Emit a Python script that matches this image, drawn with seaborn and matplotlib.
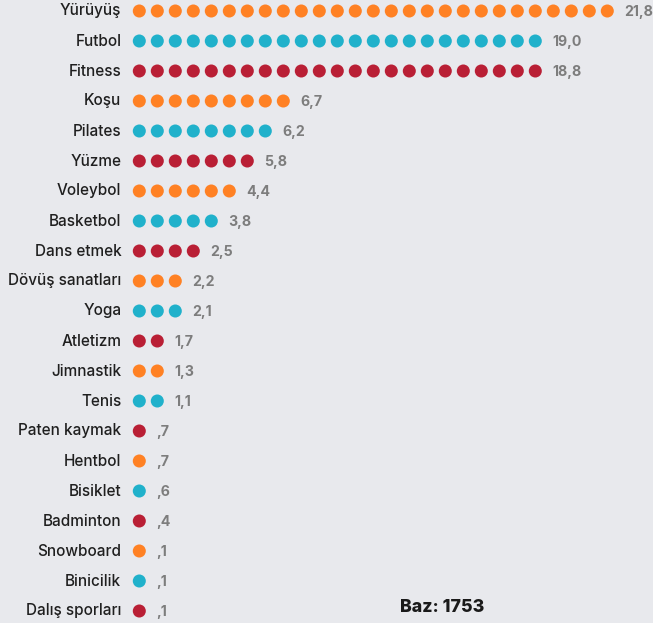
import pandas as pd
import seaborn as sns
import matplotlib.pyplot as plt

# Data
sports = ["Yürüyüş", "Futbol", "Fitness", "Koşu", "Pilates", "Yüzme", "Voleybol",
          "Basketbol", "Dans etmek", "Dövüş sanatları", "Yoga", "Atletizm", "Jimnastik",
          "Tenis", "Paten kaymak", "Hentbol", "Bisiklet", "Badminton", "Snowboard",
          "Binicilik", "Dalış sporları"]
values = [21.8, 19.0, 18.8, 6.7, 6.2, 5.8, 4.4, 3.8, 2.5, 2.2, 2.1, 1.7, 1.3, 1.1,
          0.7, 0.7, 0.6, 0.4, 0.1, 0.1, 0.1]
dot_counts = [27, 23, 23, 9, 8, 7, 6, 5, 4, 3, 3, 2, 2, 2, 1, 1, 1, 1, 1, 1, 1]
base_text = "Baz: 1753"

bg = "#E8E9ED"
palette = {"o": "#FF8124", "t": "#20B1CB", "r": "#B91F35"}
color_cycle = ["o", "t", "r"]

# one row per dot
rows = []
for i, (sport, n) in enumerate(zip(sports, dot_counts)):
    for k in range(n):
        rows.append({"sport": sport, "row": i, "dot": k, "col": color_cycle[i % 3]})
dots = pd.DataFrame(rows)

sns.set_style("white")
plt.rcParams["font.family"] = ["Inter", "DejaVu Sans"]

fig = plt.figure(figsize=(6.53, 6.23), dpi=100, facecolor=bg)
ax = fig.add_axes([0, 0, 1, 1])
ax.set_facecolor(bg)

sns.scatterplot(data=dots, x="dot", y="row", hue="col", palette=palette,
                s=88, linewidth=0, legend=False, ax=ax)

# map data units to pixel layout: dot step 18px from x=139, rows every 30px from y=11
ax.set_xlim(-139.3 / 18, (653 - 139.3) / 18)
ax.set_ylim((623 - 11) / 30, -11 / 30)
ax.axis("off")

for i, (sport, v, n) in enumerate(zip(sports, values, dot_counts)):
    ax.text(-1.0, i, sport, ha="right", va="center", fontsize=11,
            fontweight="medium", color="#1f1f1f")
    lab = f"{v:.1f}".replace(".", ",")
    if lab.startswith("0"):
        lab = lab[1:]
    ax.text(n - 0.05, i + 0.02, lab, ha="left", va="center", fontsize=10.2,
            fontweight="bold", color="#7d7d7d")

fig.text(442 / 653, 1 - 607 / 623, base_text, ha="center", va="center",
         fontsize=12.8, fontweight="heavy", color="#1a1a1a")

fig.savefig("out.png", dpi=100, facecolor=bg)
